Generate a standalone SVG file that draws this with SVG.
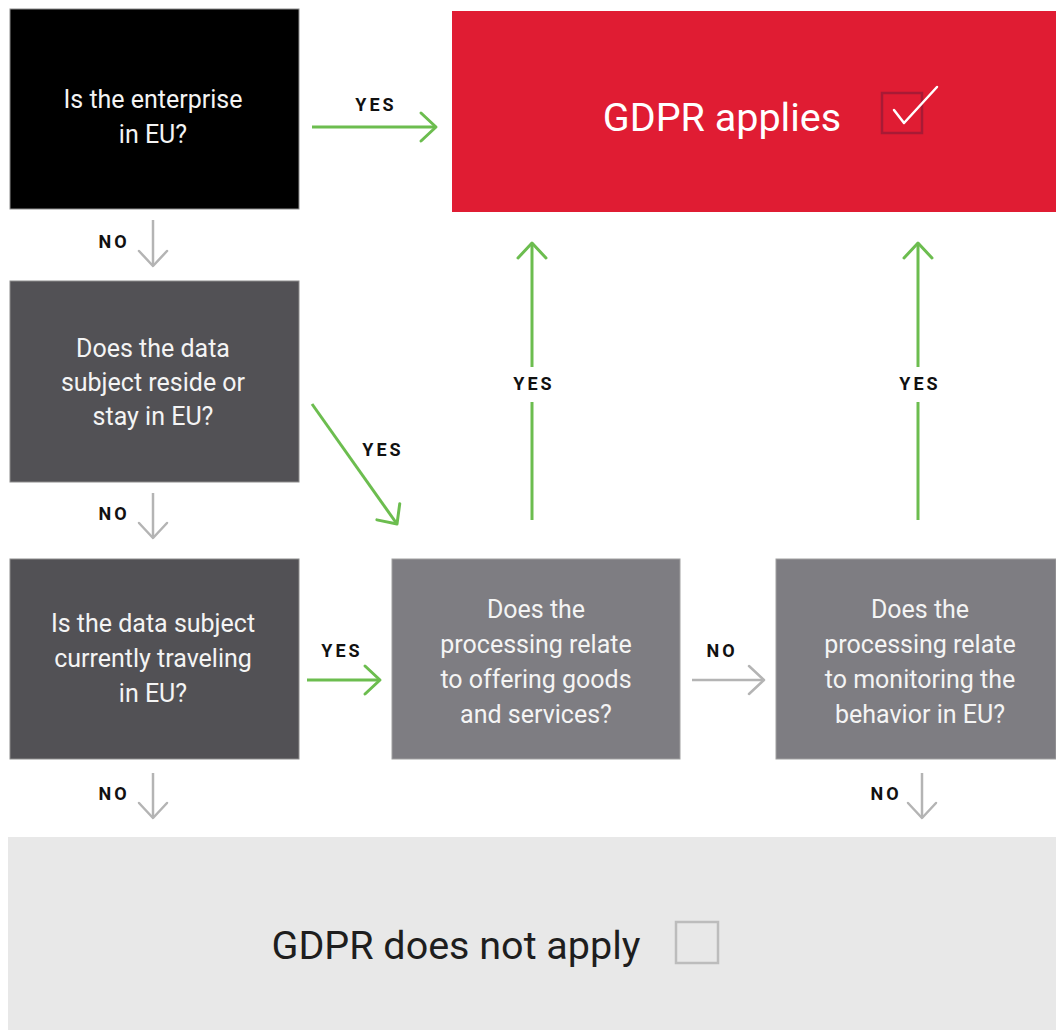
<svg xmlns="http://www.w3.org/2000/svg" width="1056" height="1030" viewBox="0 0 1056 1030">
  <style>
    .q { font-family: Roboto, "Liberation Sans", sans-serif; font-size: 25px; fill: #f4f4f4; text-anchor: middle; }
    .lbl { font-family: Roboto, "Liberation Sans", sans-serif; font-size: 18px; font-weight: bold; fill: #111111; text-anchor: middle; letter-spacing: 3px; }
    .big { font-family: Roboto, "Liberation Sans", sans-serif; font-size: 39.5px; }
    .yes { stroke: #6cbd4f; stroke-width: 3; fill: none; marker-end: url(#ag); }
    .no { stroke: #b4b4b4; stroke-width: 2.5; fill: none; marker-end: url(#an); }
  </style>
  <defs>
    <marker id="ag" markerUnits="userSpaceOnUse" orient="auto" markerWidth="40" markerHeight="40" refX="0" refY="0" viewBox="-20 -20 40 40" overflow="visible">
      <path d="M-15,-14 L0,0 L-15,14" fill="none" stroke="#6cbd4f" stroke-width="3" stroke-linecap="round" stroke-linejoin="round"/>
    </marker>
    <marker id="an" markerUnits="userSpaceOnUse" orient="auto" markerWidth="40" markerHeight="40" refX="0" refY="0" viewBox="-20 -20 40 40" overflow="visible">
      <path d="M-15,-14 L0,0 L-15,14" fill="none" stroke="#b4b4b4" stroke-width="2.5" stroke-linecap="round" stroke-linejoin="round"/>
    </marker>
  </defs>
  <rect width="1056" height="1030" fill="#ffffff"/>

  <g id="applies">
    <rect x="452" y="11" width="604" height="201" fill="#e01c33"/>
    <text class="big" x="722" y="131" text-anchor="middle" fill="#ffffff">GDPR applies</text>
    <rect x="882" y="93" width="40" height="40" fill="none" stroke="#a81a35" stroke-width="2.5"/>
    <polyline points="894,110 904,123 937,87" fill="none" stroke="#ffffff" stroke-width="2.5" stroke-linecap="round" stroke-linejoin="round"/>
  </g>

  <g id="q1">
    <rect x="10" y="9" width="289" height="200" fill="#000000" stroke="#8c8c8c" stroke-width="1"/>
    <text class="q" x="153" y="108">Is the enterprise</text>
    <text class="q" x="153" y="143">in EU?</text>
  </g>

  <g id="q2">
    <rect x="10" y="281" width="289" height="201" fill="#525155" stroke="#8c8c8c" stroke-width="1"/>
    <text class="q" x="153" y="357">Does the data</text>
    <text class="q" x="153" y="391">subject reside or</text>
    <text class="q" x="153" y="425">stay in EU?</text>
  </g>

  <g id="q3">
    <rect x="10" y="559" width="289" height="200" fill="#525155" stroke="#8c8c8c" stroke-width="1"/>
    <text class="q" x="153" y="632">Is the data subject</text>
    <text class="q" x="153" y="667">currently traveling</text>
    <text class="q" x="153" y="702">in EU?</text>
  </g>

  <g id="q4">
    <rect x="392" y="559" width="288" height="200" fill="#7e7d82" stroke="#a0a0a0" stroke-width="1"/>
    <text class="q" x="536" y="618">Does the</text>
    <text class="q" x="536" y="653">processing relate</text>
    <text class="q" x="536" y="688">to offering goods</text>
    <text class="q" x="536" y="723">and services?</text>
  </g>

  <g id="q5">
    <rect x="776" y="559" width="280" height="200" fill="#7e7d82" stroke="#a0a0a0" stroke-width="1"/>
    <text class="q" x="920" y="618">Does the</text>
    <text class="q" x="920" y="653">processing relate</text>
    <text class="q" x="920" y="688">to monitoring the</text>
    <text class="q" x="920" y="723">behavior in EU?</text>
  </g>

  <g id="notapply">
    <rect x="8" y="837" width="1048" height="193" fill="#e8e8e8"/>
    <text class="big" x="456" y="959" text-anchor="middle" fill="#1e1e1e">GDPR does not apply</text>
    <rect x="676" y="922" width="42" height="41" fill="none" stroke="#bcbcbc" stroke-width="2.5"/>
  </g>

  <g id="connectors">
    <line class="yes" x1="312" y1="127" x2="436" y2="127"/>
    <text class="lbl" x="376" y="111">YES</text>

    <line class="no" x1="153" y1="220" x2="153" y2="266"/>
    <text class="lbl" x="114" y="248">NO</text>

    <line class="no" x1="153" y1="493" x2="153" y2="538"/>
    <text class="lbl" x="114" y="520">NO</text>

    <line class="yes" x1="312" y1="404" x2="397" y2="524"/>
    <text class="lbl" x="383" y="456">YES</text>

    <line class="no" x1="153" y1="773" x2="153" y2="818"/>
    <text class="lbl" x="114" y="800">NO</text>

    <line class="yes" x1="307" y1="680" x2="380" y2="680"/>
    <text class="lbl" x="342" y="657">YES</text>

    <line class="no" x1="692" y1="680" x2="764" y2="680"/>
    <text class="lbl" x="722" y="657">NO</text>

    <line stroke="#6cbd4f" stroke-width="3" x1="532" y1="520" x2="532" y2="402"/>
    <line class="yes" x1="532" y1="367" x2="532" y2="243"/>
    <text class="lbl" x="534" y="390">YES</text>

    <line stroke="#6cbd4f" stroke-width="3" x1="918" y1="520" x2="918" y2="402"/>
    <line class="yes" x1="918" y1="367" x2="918" y2="243"/>
    <text class="lbl" x="920" y="390">YES</text>

    <line class="no" x1="922" y1="773" x2="922" y2="818"/>
    <text class="lbl" x="886" y="800">NO</text>
  </g>
</svg>
